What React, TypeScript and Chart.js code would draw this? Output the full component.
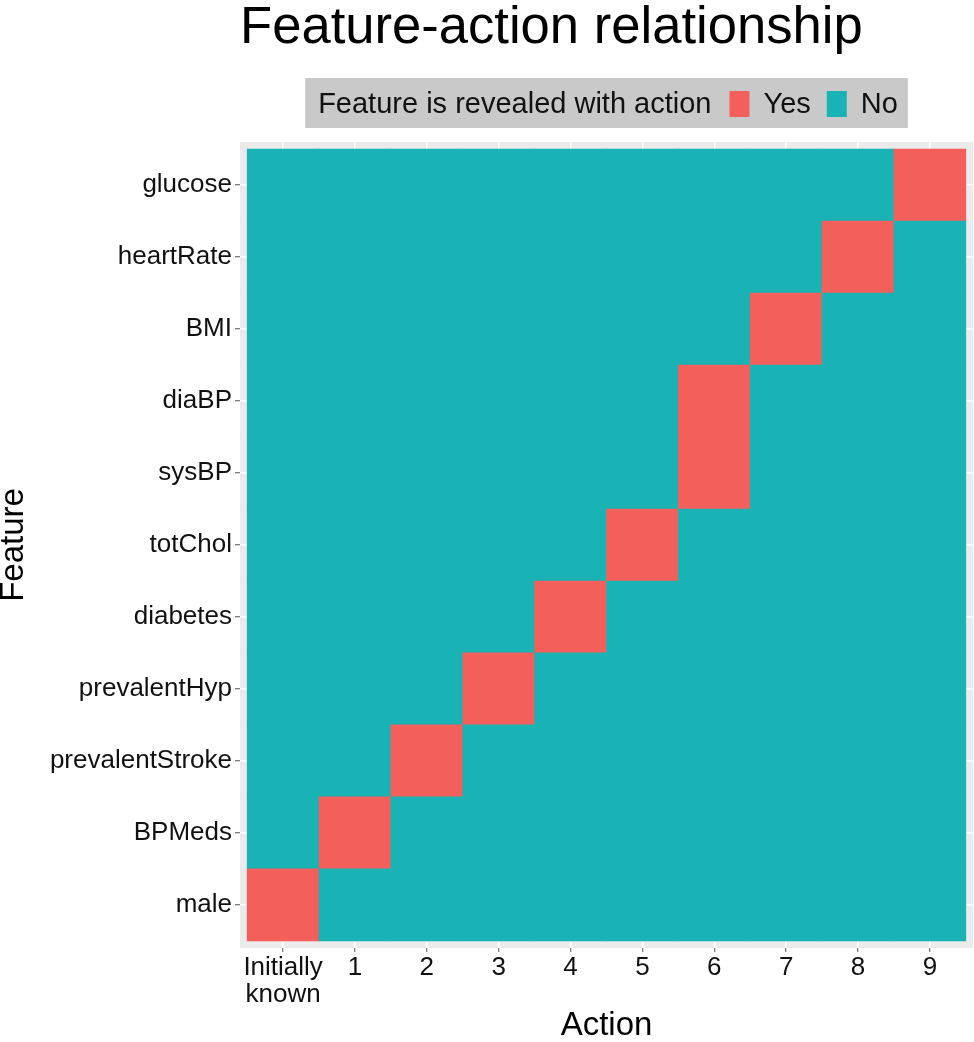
import React, { useEffect, useRef } from "react";
import { Chart, registerables } from "chart.js";

Chart.register(...registerables);

// Features listed bottom-to-top (as in the plot's y axis)
const features = [
  "male",
  "BPMeds",
  "prevalentStroke",
  "prevalentHyp",
  "diabetes",
  "totChol",
  "sysBP",
  "diaBP",
  "BMI",
  "heartRate",
  "glucose",
];

// Actions along the x axis
const actions = ["Initially known", "1", "2", "3", "4", "5", "6", "7", "8", "9"];

// Index of the action that reveals each feature (same order as features)
const revealedByAction = [0, 1, 2, 3, 4, 5, 6, 6, 7, 8, 9];

const legendTitle = "Feature is revealed with action";
const legendLabels = ["Yes", "No"];
const chartTitle = "Feature-action relationship";

const YES_COLOR = "#F35F5A";
const NO_COLOR = "#19B3B6";
const FONT = "'Liberation Sans', Arial, Helvetica, sans-serif";

const tickLabel = (a: string) => (a === "Initially known" ? ["Initially", "known"] : a);

export default function App() {
  const ref = useRef<HTMLCanvasElement | null>(null);

  useEffect(() => {
    if (!ref.current) return;

    const datasets = features.map((f, r) => ({
      label: f,
      data: actions.map((_, c) => ({ x: c + 0.5, y: [r, r + 1] })),
      backgroundColor: actions.map((_, c) => (c === revealedByAction[r] ? YES_COLOR : NO_COLOR)),
      borderWidth: 0,
      grouped: false,
      barPercentage: 1,
      categoryPercentage: 1,
    }));

    const panelPlugin = {
      id: "panelBg",
      beforeDraw(chart: any) {
        const { ctx, chartArea: a } = chart;
        ctx.save();
        ctx.fillStyle = "#ffffff";
        ctx.fillRect(0, 0, chart.width, chart.height);
        ctx.fillStyle = "#EBEBEB";
        ctx.fillRect(a.left, a.top, a.right - a.left, a.bottom - a.top);
        ctx.restore();
      },
    };

    const headerPlugin = {
      id: "header",
      afterDraw(chart: any) {
        const { ctx, chartArea: a } = chart;
        ctx.save();
        // Title (left-aligned to the panel)
        ctx.fillStyle = "#000";
        ctx.font = `52.6px ${FONT}`;
        ctx.textAlign = "left";
        ctx.textBaseline = "alphabetic";
        ctx.fillText(chartTitle, a.left, 43);

        // Legend box
        ctx.font = `29px ${FONT}`;
        const padL = 13, padR = 10, gapKey = 18, key = 20, gapTxt = 14, gapItem = 16;
        const wTitle = ctx.measureText(legendTitle).width;
        const wLabels = legendLabels.map((l) => ctx.measureText(l).width);
        let total = padL + wTitle + padR;
        wLabels.forEach((w, i) => {
          total += (i === 0 ? gapKey : gapItem) + key + gapTxt + w;
        });
        const cx = (a.left + a.right) / 2;
        const bx = cx - total / 2;
        const by = 78, bh = 50;
        ctx.fillStyle = "#C9C9C9";
        ctx.fillRect(bx, by, total, bh);
        let x = bx + padL;
        ctx.fillStyle = "#111";
        const base = 113;
        ctx.fillText(legendTitle, x, base);
        x += wTitle;
        const colors = [YES_COLOR, NO_COLOR];
        legendLabels.forEach((l, i) => {
          x += i === 0 ? gapKey : gapItem;
          ctx.fillStyle = colors[i];
          ctx.fillRect(x, 91, key, 26);
          x += key + gapTxt;
          ctx.fillStyle = "#111";
          ctx.fillText(l, x, base);
          x += wLabels[i];
        });
        ctx.restore();
      },
    };

    const chart = new Chart(ref.current, {
      type: "bar",
      data: { datasets: datasets as any },
      plugins: [panelPlugin, headerPlugin],
      options: {
        animation: false,
        responsive: false,
        devicePixelRatio: 1,
        layout: { padding: { top: 142, right: 1, left: 0, bottom: 0 } },
        plugins: {
          legend: { display: false },
          title: { display: false },
          tooltip: { enabled: false },
        },
        scales: {
          x: {
            type: "linear",
            bounds: "data",
            offset: false,
            min: -0.1,
            max: 10.1,
            afterBuildTicks: (scale: any) => {
              scale.ticks = actions.map((_, i) => ({ value: i + 0.5 }));
            },
            afterFit: (scale: any) => {
              scale.height = 94;
            },
            border: { display: false },
            grid: {
              offset: false,
              color: "#ffffff",
              lineWidth: 1.5,
              tickColor: "#555",
              tickLength: 4,
              tickWidth: 1,
            },
            ticks: {
              autoSkip: false,
              maxRotation: 0,
              minRotation: 0,
              padding: 2,
              color: "#111",
              font: { family: FONT, size: 26, lineHeight: 1.05 },
              callback: (v: any) => {
                const i = Math.round(Number(v) - 0.5);
                return actions[i] !== undefined ? tickLabel(actions[i]) : "";
              },
            },
            title: {
              display: true,
              text: "Action",
              color: "#000",
              font: { family: FONT, size: 33, lineHeight: 1 },
              padding: { top: 0, bottom: 0 },
            },
          },
          y: {
            type: "linear",
            bounds: "data",
            offset: false,
            min: -0.1,
            max: features.length + 0.1,
            afterBuildTicks: (scale: any) => {
              scale.ticks = features.map((_, i) => ({ value: i + 0.5 }));
            },
            afterFit: (scale: any) => {
              scale.width = 240;
            },
            border: { display: false },
            grid: {
              offset: false,
              color: "#ffffff",
              lineWidth: 1.5,
              tickColor: "#555",
              tickLength: 5,
              tickWidth: 1,
            },
            ticks: {
              autoSkip: false,
              padding: 3,
              color: "#111",
              font: { family: FONT, size: 26 },
              callback: (v: any) => {
                const i = Math.round(Number(v) - 0.5);
                return features[i] !== undefined ? features[i] : "";
              },
            },
            title: {
              display: true,
              text: "Feature",
              color: "#000",
              font: { family: FONT, size: 33, lineHeight: 0.85 },
              padding: { top: 0, bottom: 0 },
            },
          },
        },
      } as any,
    });

    return () => chart.destroy();
  }, []);

  return (
    <div style={{ position: "absolute", left: 0, top: 0, width: 974, height: 1042 }}>
      <canvas ref={ref} width={974} height={1042} style={{ width: 974, height: 1042 }} />
    </div>
  );
}
